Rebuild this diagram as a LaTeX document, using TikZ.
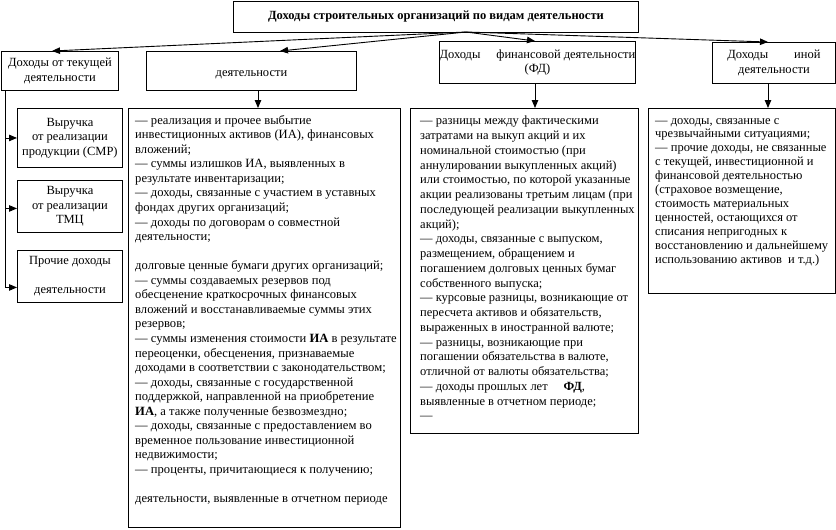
\documentclass[tikz,border=0pt]{standalone}
\usepackage{fontspec}
\setmainfont{Liberation Serif}
\usetikzlibrary{arrows.meta}
\begin{document}
\begin{tikzpicture}[x=1pt,y=-1pt,
  box/.style={draw, line width=0.9pt, inner sep=0pt, anchor=north west},
  lbl/.style={align=center, font=\fontsize{12.5}{14.5}\selectfont},
  body/.style={align=left, inner sep=0pt, anchor=north west},
  arr/.style={line width=0.9pt, -{Triangle[length=8pt,width=6.5pt]}}]
\useasboundingbox (0,0) rectangle (836,530);

\node[box, minimum width=405pt, minimum height=31pt,
  font=\bfseries\fontsize{12.5}{14}\selectfont] (title) at (233,1)
  {Доходы строительных организаций по видам деятельности};

\node[box, lbl, minimum width=117pt, minimum height=39pt] (cur) at (1,51)
  {Доходы от текущей\\деятельности};
\node[box, lbl, minimum width=210pt, minimum height=39pt] (inv) at (146,51)
  {\mbox{}\\деятельности};
\node[box, lbl, minimum width=196pt, minimum height=42pt] (fin) at (439,41)
  {Доходы\hspace{16pt}финансовой деятельности\\(ФД)};
\node[box, lbl, minimum width=123pt, minimum height=41pt] (oth) at (712,42)
  {Доходы\hspace{26pt}иной\\деятельности};

\node[box, lbl, minimum width=105pt, minimum height=59pt] (sa) at (17,108)
  {Выручка\\от реализации\\продукции (СМР)};
\node[box, lbl, minimum width=105pt, minimum height=52pt] (sb) at (17,180)
  {Выручка\\от реализации\\ТМЦ};
\node[box, lbl, minimum width=105pt, minimum height=52pt] (sc) at (17,250)
  {Прочие доходы\\\mbox{}\\деятельности};

\node[box, minimum width=272pt, minimum height=419pt] (invlist) at (128,108) {};
\node[box, minimum width=228pt, minimum height=325pt] (finlist) at (410,108) {};
\node[box, minimum width=187pt, minimum height=185pt] (othlist) at (648,108) {};

\node[body, font=\fontsize{12.6}{14.55}\selectfont] (t2) at (135,115) {%
— реализация и прочее выбытие\\
инвестиционных активов (ИА), финансовых\\
вложений;\\
— суммы излишков ИА, выявленных в\\
результате инвентаризации;\\
— доходы, связанные с участием в уставных\\
фондах других организаций;\\
— доходы по договорам о совместной\\
деятельности;\\
\mbox{}\\
долговые ценные бумаги других организаций;\\
— суммы создаваемых резервов под\\
обесценение краткосрочных финансовых\\
вложений и восстанавливаемые суммы этих\\
резервов;\\
— суммы изменения стоимости \textbf{ИА} в результате\\
переоценки, обесценения, признаваемые\\
доходами в соответствии с законодательством;\\
— доходы, связанные с государственной\\
поддержкой, направленной на приобретение\\
\textbf{ИА}, а также полученные безвозмездно;\\
— доходы, связанные с предоставлением во\\
временное пользование инвестиционной\\
недвижимости;\\
— проценты, причитающиеся к получению;\\
\mbox{}\\
деятельности, выявленные в отчетном периоде};

\node[body, font=\fontsize{12.5}{14.75}\selectfont] (t3) at (420,116) {%
— разницы между фактическими\\
затратами на выкуп акций и их\\
номинальной стоимостью (при\\
аннулировании выкупленных акций)\\
или стоимостью, по которой указанные\\
акции реализованы третьим лицам (при\\
последующей реализации выкупленных\\
акций);\\
— доходы, связанные с выпуском,\\
размещением, обращением и\\
погашением долговых ценных бумаг\\
собственного выпуска;\\
— курсовые разницы, возникающие от\\
пересчета активов и обязательств,\\
выраженных в иностранной валюте;\\
— разницы, возникающие при\\
погашении обязательства в валюте,\\
отличной от валюты обязательства;\\
— доходы прошлых лет\hspace{16pt}\textbf{ФД},\\
выявленные в отчетном периоде;\\
—};

\node[body, font=\fontsize{12.5}{13.9}\selectfont] (t4) at (655,118) {%
— доходы, связанные с\\
чрезвычайными ситуациями;\\
— прочие доходы, не связанные\\
с текущей, инвестиционной и\\
финансовой деятельностью\\
(страховое возмещение,\\
стоимость материальных\\
ценностей, остающихся от\\
списания непригодных к\\
восстановлению и дальнейшему\\
использованию активов\ \ и т.д.)};

% connectors from title
\coordinate (o) at (466,32);
\draw[arr] (o) -- ([xshift=51pt]cur.north west);
\draw[arr] (o) -- ([xshift=134pt]inv.north west);
\draw[arr] (o) -- ([xshift=96pt]fin.north west);
\draw[arr] (o) -- ([xshift=56pt]oth.north west);

% down arrows
\draw[arr] ([xshift=112pt]inv.south west) -- ([xshift=130pt]invlist.north west);
\draw[arr] ([xshift=96pt]fin.south west) -- ([xshift=125pt]finlist.north west);
\draw[arr] ([xshift=56pt]oth.south west) -- ([xshift=120pt]othlist.north west);

% left spine
\coordinate (spine) at ([xshift=4pt]cur.south west);
\coordinate (bin) at ([yshift=-2pt]sb.west);
\coordinate (cin) at ([yshift=-11pt]sc.west);
\draw[arr] (spine) |- (cin);
\draw[arr] (spine |- sa.west) -- (sa.west);
\draw[arr] (spine |- bin) -- (bin);
\end{tikzpicture}
\end{document}
